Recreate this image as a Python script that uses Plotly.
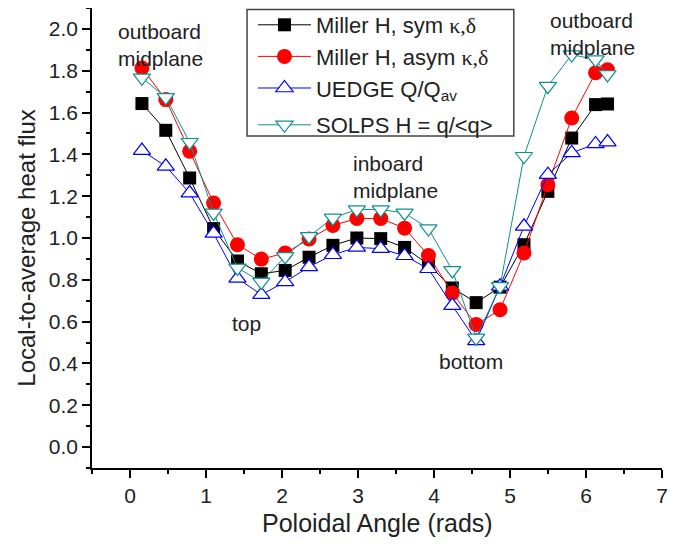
import plotly.graph_objects as go

# Poloidal angle (rads)
theta = [0.157, 0.471, 0.785, 1.100, 1.414, 1.728, 2.042, 2.356, 2.670, 2.985,
         3.299, 3.613, 3.927, 4.241, 4.555, 4.869, 5.184, 5.498, 5.812, 6.126, 6.283]

miller_sym = [1.643, 1.515, 1.287, 1.045, 0.890, 0.829, 0.845, 0.908, 0.965, 1.000,
              0.997, 0.955, 0.873, 0.761, 0.691, 0.765, 0.968, 1.223, 1.478, 1.638, 1.641]
miller_asym = [1.813, 1.662, 1.415, 1.167, 0.968, 0.899, 0.928, 0.995, 1.060, 1.093,
               1.093, 1.047, 0.916, 0.737, 0.586, 0.657, 0.928, 1.255, 1.574, 1.790, 1.805]
uedge = [1.418, 1.343, 1.215, 1.022, 0.807, 0.729, 0.790, 0.862, 0.920, 0.955,
         0.949, 0.915, 0.853, 0.677, 0.508, 0.769, 1.056, 1.303, 1.407, 1.450, 1.459]
solps = [1.766, 1.673, 1.458, 1.120, 0.857, 0.790, 0.912, 1.008, 1.096, 1.136,
         1.136, 1.120, 1.045, 0.845, 0.522, 0.769, 1.391, 1.726, 1.877, 1.853, 1.782]

names = [
    "Miller H, sym <span style='font-family:Liberation Serif'>κ,δ</span>",
    "Miller H, asym <span style='font-family:Liberation Serif'>κ,δ</span>",
    "UEDGE Q/Q<sub>av</sub>",
    "SOLPS H = q/&lt;q&gt;",
]

FONT = "Liberation Sans, Arial, sans-serif"
TXT = "#222222"

fig = go.Figure()
fig.add_trace(go.Scatter(x=theta, y=miller_sym, mode="lines+markers", name=names[0],
                         line=dict(color="black", width=1),
                         marker=dict(symbol="square", size=13, color="black")))
fig.add_trace(go.Scatter(x=theta, y=miller_asym, mode="lines+markers", name=names[1],
                         line=dict(color="red", width=1),
                         marker=dict(symbol="circle", size=15, color="red")))
fig.add_trace(go.Scatter(x=theta, y=uedge, mode="lines+markers", name=names[2],
                         line=dict(color="blue", width=1),
                         marker=dict(symbol="triangle-up", size=15, color="white",
                                     line=dict(color="blue", width=1.2))))
fig.add_trace(go.Scatter(x=theta, y=solps, mode="lines+markers", name=names[3],
                         legend="legend2",
                         line=dict(color="#108f8f", width=1),
                         marker=dict(symbol="triangle-down", size=15, color="white",
                                     line=dict(color="#108f8f", width=1.2))))

annots = [
    (-0.188, 1.924, "outboard<br>midplane"),
    (5.503, 1.975, "outboard<br>midplane"),
    (2.908, 1.290, "inboard<br>midplane"),
    (1.314, 0.592, "top"),
    (4.040, 0.410, "bottom"),
]
for ax_, ay_, t in annots:
    fig.add_annotation(x=ax_, y=ay_, text=t, showarrow=False, xanchor="left",
                       yanchor="middle", align="left",
                       font=dict(family=FONT, size=21, color=TXT))

# axis titles
fig.add_annotation(xref="paper", yref="paper", x=0.5, y=-0.12, text="Poloidal Angle (rads)",
                   showarrow=False, xanchor="center", yanchor="middle",
                   font=dict(family=FONT, size=25, color=TXT))
fig.add_annotation(xref="paper", yref="paper", x=-0.114, y=0.479, text="Local-to-average heat flux",
                   showarrow=False, xanchor="center", yanchor="middle", textangle=-90,
                   font=dict(family=FONT, size=24, color=TXT))

# legend frame
fig.add_shape(type="rect", xref="paper", yref="paper", x0=0.272, x1=0.740, y0=0.722, y1=0.997,
              line=dict(color="#444444", width=1.5), fillcolor="white", layer="above")

leg_common = dict(xanchor="left", yanchor="top", bgcolor="rgba(0,0,0,0)", borderwidth=0,
                  font=dict(family=FONT, size=22, color=TXT), itemwidth=53, tracegroupgap=0)

fig.update_layout(
    width=683, height=542,
    margin=dict(l=84, r=29, t=0, b=82, autoexpand=False),
    paper_bgcolor="white", plot_bgcolor="white",
    font=dict(family=FONT, color=TXT),
    showlegend=True,
    legend=dict(x=0.2824, y=1.0087, **leg_common),
    legend2=dict(x=0.2824, y=0.7913, **leg_common),
    xaxis=dict(range=[-0.5, 7], dtick=1, tick0=0, showgrid=False, zeroline=False,
               showline=True, linecolor="black", linewidth=1.5, automargin=False,
               ticks="outside", ticklen=8, tickwidth=1.5, tickcolor="black",
               tickfont=dict(family=FONT, size=21, color=TXT),
               minor=dict(dtick=0.5, tick0=0, ticks="outside", ticklen=4,
                          tickwidth=1.5, tickcolor="black", showgrid=False)),
    yaxis=dict(range=[-0.1, 2.1], dtick=0.2, tick0=0, showgrid=False, zeroline=False,
               showline=True, linecolor="black", linewidth=1.5, automargin=False,
               ticks="outside", ticklen=8, tickwidth=1.5, tickcolor="black",
               tickformat=".1f",
               tickfont=dict(family=FONT, size=21, color=TXT),
               minor=dict(dtick=0.1, tick0=0, ticks="outside", ticklen=4,
                          tickwidth=1.5, tickcolor="black", showgrid=False)),
)

fig.write_html("out.html")
